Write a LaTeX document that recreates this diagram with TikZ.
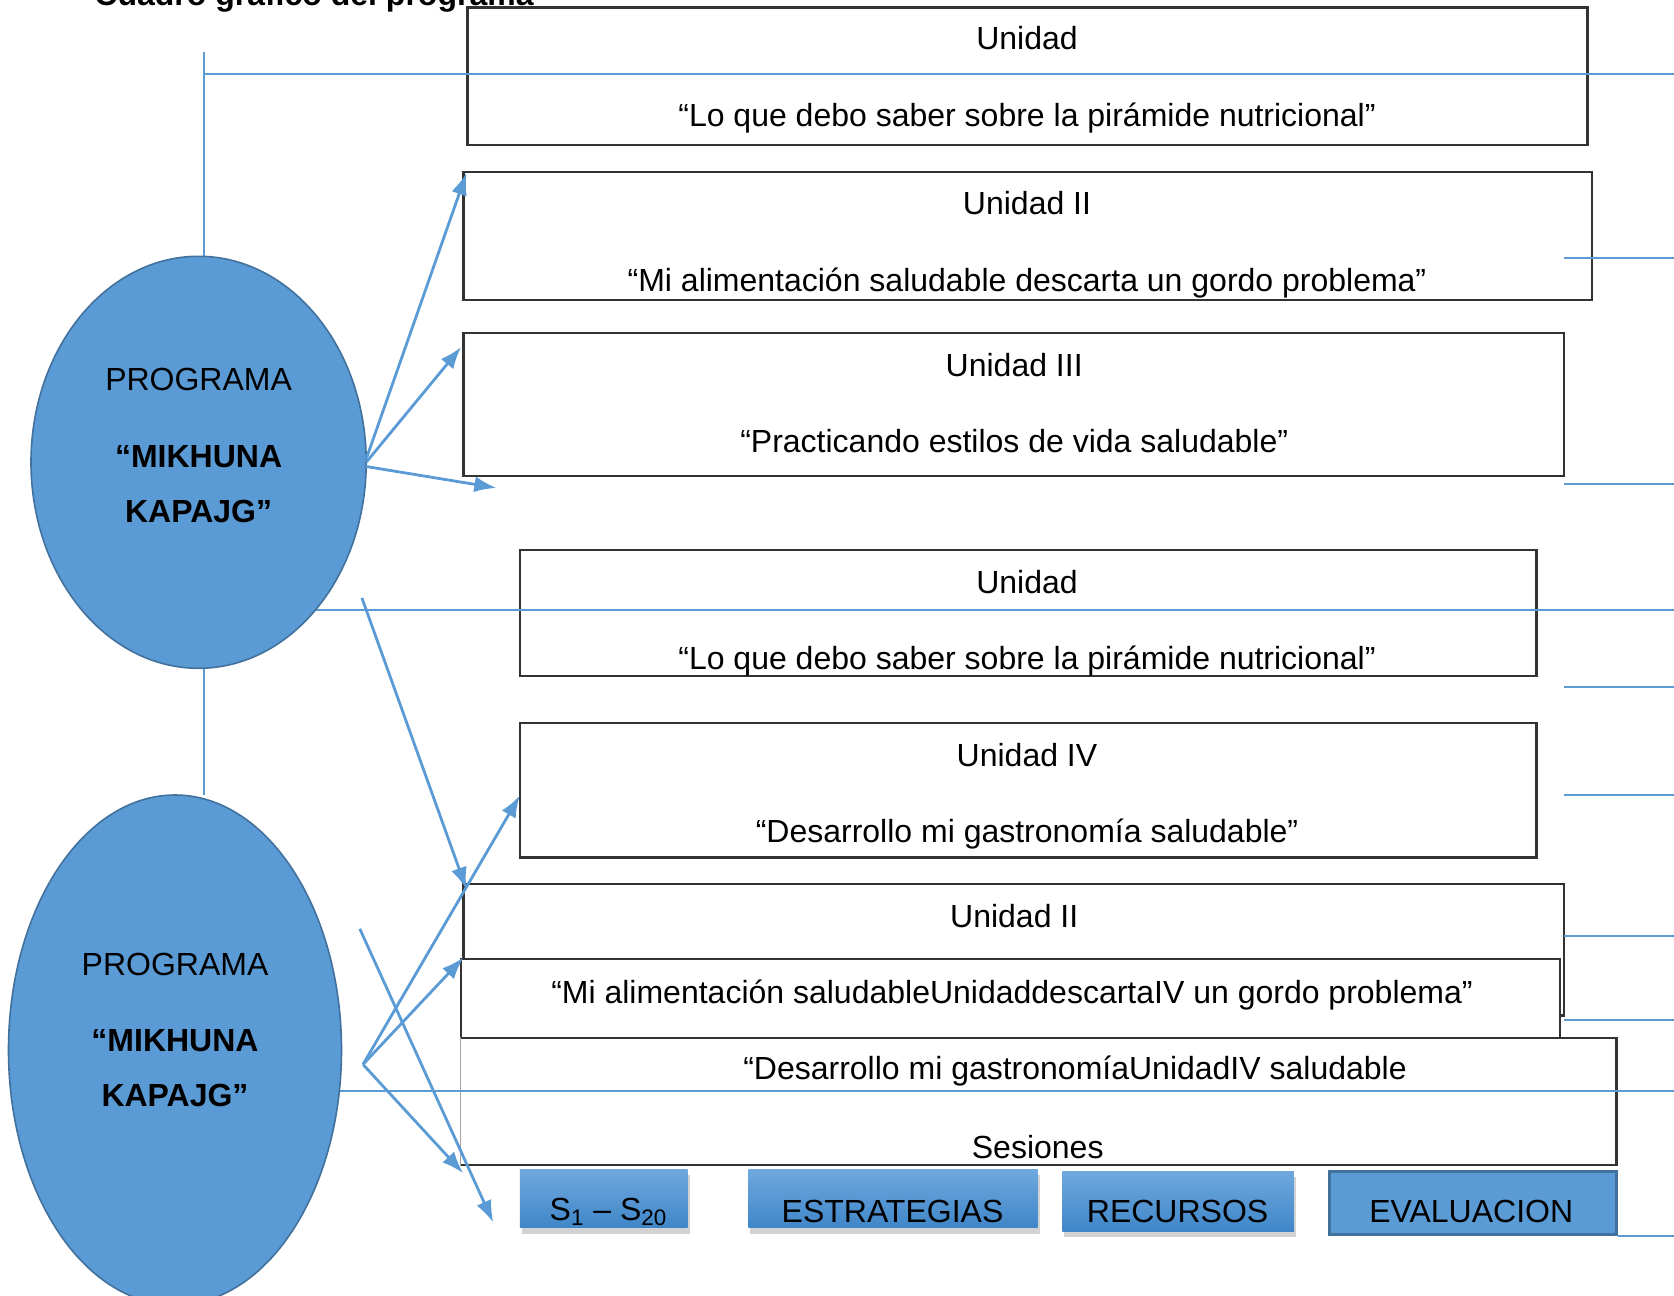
\documentclass[tikz,border=0pt]{standalone}
\usepackage{fontspec}
\setmainfont{Liberation Sans}
\usetikzlibrary{arrows.meta,shadows,fit,shapes.geometric}
\definecolor{obl}{HTML}{5B9BD5}
\definecolor{obd}{HTML}{41719C}
\definecolor{bx}{HTML}{333333}
\definecolor{btop}{HTML}{70A9DF}
\definecolor{bbot}{HTML}{3F86C8}
\begin{document}
\begin{tikzpicture}[x=0.5pt,y=-0.5pt,
  font=\fontsize{16}{19}\selectfont,
  unitbox/.style={draw=bx,line width=1.2pt,fill=white,inner sep=0pt},
  txt/.style={inner sep=0pt,anchor=base},
  btxt/.style={inner sep=0pt,anchor=base,font=\bfseries\fontsize{16}{19}\selectfont},
  bl/.style={draw=obl,line width=1pt},
  arr/.style={draw=obl,line width=1.4pt,-{Latex[length=11pt,width=8pt]}},
  prog/.style={ellipse,fill=obl,draw=obd,line width=0.8pt,inner sep=0pt},
  btn/.style={top color=btop,bottom color=bbot,draw=none,inner sep=0pt,
    drop shadow={shadow xshift=1pt,shadow yshift=-3pt,opacity=0.35}},
  evalbox/.style={fill=obl,draw=obd,line width=1.5pt,inner sep=0pt}]
\useasboundingbox (0,0) rectangle (1674,1295);
\fill[white] (0,0) rectangle (1674,1295);

% title (cut off at top edge, as in the reference)
\node[btxt,anchor=base west] (title) at (94,6) {Cuadro gráfico del programa};

% unit boxes
\node[unitbox,fit={(467.6,7.5) (1587.5,145.2)}] (b1) {};
\node[unitbox,fit={(463.3,171.9) (1591.8,300)}] (b2) {};
\node[unitbox,fit={(463.3,333.1) (1564,476.1)}] (b3) {};
\node[unitbox,fit={(519.9,549.8) (1536.3,675.8)}] (b4) {};
\node[unitbox,fit={(519.9,722.8) (1536.3,857.3)}] (b5) {};
\node[unitbox,fit={(463.3,884) (1564,1015.3)}] (b6) {};
\node[unitbox,fit={(461.2,958.7) (1559.8,1037.7)}] (b7) {};
\node[unitbox,fit={(461.2,1037.7) (1616.3,1164.8)}] (b8) {};
\draw[white,line width=1.6pt] ([yshift=-1pt]b8.north west) -- ([yshift=1pt]b8.south west);
\draw[gray!70,line width=0.4pt] (b8.north west) -- (b8.south west);

% blue lines
\coordinate (v1) at (203.9,52.3);
\coordinate (v2) at (203.9,795.4);
\coordinate (l1a) at (202.8,73.7);   \coordinate (l1b) at (1674,73.7);
\coordinate (l2a) at (1564,258.4);   \coordinate (l2b) at (1674,258.4);
\coordinate (l3a) at (1564,483.6);   \coordinate (l3b) at (1674,483.6);
\coordinate (l4a) at (300,609.6);    \coordinate (l4b) at (1674,609.6);
\coordinate (l5a) at (1564,686.5);   \coordinate (l5b) at (1674,686.5);
\coordinate (l6a) at (1564,795.4);   \coordinate (l6b) at (1674,795.4);
\coordinate (l7a) at (1564,936.3);   \coordinate (l7b) at (1674,936.3);
\coordinate (l8a) at (1564,1019.6);  \coordinate (l8b) at (1674,1019.6);
\coordinate (l9a) at (250,1091);     \coordinate (l9b) at (1674,1091);
\draw[bl] (v1) -- (v2);
\foreach \i in {1,...,9} \draw[bl] (l\i a) -- (l\i b);

% ellipses
\node[prog,minimum width=167.6pt,minimum height=206pt] (e1) at (198.6,462.3) {};
\node[prog,minimum width=166.5pt,minimum height=255pt] (e2) at (175,1050) {};
\node[txt] (e1a) at (198.6,390.5) {PROGRAMA};
\node[btxt] (e1b) at (198.6,467.4) {“MIKHUNA};
\node[btxt] (e1c) at (198.6,522.9) {KAPAJG”};
\node[txt] (e2a) at (175,975.5) {PROGRAMA};
\node[btxt] (e2b) at (175,1051.3) {“MIKHUNA};
\node[btxt] (e2c) at (175,1106.9) {KAPAJG”};

% box texts
\node[txt] (t1a) at (1027,49.9) {Unidad};
\node[txt] (t1b) at (1027,126.8) {“Lo que debo saber sobre la pirámide nutricional”};
\node[txt] (t2a) at (1027,214.3) {Unidad II};
\node[txt] (t2b) at (1027,291.2) {“Mi alimentación saludable descarta un gordo problema”};
\node[txt] (t3a) at (1014.2,376.6) {Unidad III};
\node[txt] (t3b) at (1014.2,452.4) {“Practicando estilos de vida saludable”};
\node[txt] (t4a) at (1027,593.3) {Unidad};
\node[txt] (t4b) at (1027,669.1) {“Lo que debo saber sobre la pirámide nutricional”};
\node[txt] (t5a) at (1027,766.3) {Unidad IV};
\node[txt] (t5b) at (1027,842.1) {“Desarrollo mi gastronomía saludable”};
\node[txt] (t6a) at (1014.2,927.5) {Unidad II};
\node[txt] (t7a) at (1012,1003.3) {“Mi alimentación saludableUnidaddescartaIV un gordo problema”};
\node[txt] (t8a) at (1075,1079.1) {“Desarrollo mi gastronomíaUnidadIV saludable};
\node[txt] (t8b) at (1037.7,1158.1) {Sesiones};

% buttons
\node[btn,fit={(519.9,1169) (687.5,1227.7)}] (s1) {};
\node[btn,fit={(748.4,1169) (1037.7,1227.7)}] (s2) {};
\node[btn,fit={(1062.3,1171.2) (1293.9,1231)}] (s3) {};
\node[evalbox,fit={(1329.2,1171.2) (1616.3,1234.1)}] (s4) {};
\node[txt] (s1t) at (608.5,1220) {S\textsubscript{1} – S\textsubscript{20}};
\node[txt] (s2t) at (892.5,1222) {ESTRATEGIAS};
\node[txt] (s3t) at (1177.6,1222) {RECURSOS};
\node[txt] (s4t) at (1471.2,1222) {EVALUACION};
\coordinate (l10b) at (1674,1234.1);
\draw[bl] (s4.south east) -- (s4.south east -| l10b);

% arrows
\coordinate (a1s) at (366.2,459);   \coordinate (a1e) at (466.5,173);
\coordinate (a2s) at (366.2,462.3); \coordinate (a2e) at (461.2,347);
\coordinate (a3s) at (366.2,466.5); \coordinate (a3e) at (496.4,487.9);
\coordinate (a4s) at (361.9,597.9); \coordinate (a4e) at (466.5,889.3);
\coordinate (a5s) at (363,1064.4);  \coordinate (a5e) at (519.9,795.4);
\coordinate (a6e) at (463.3,957.6);
\coordinate (a7e) at (463.3,1173.3);
\coordinate (a8s) at (359.8,928.8); \coordinate (a8e) at (493.2,1222.4);
\draw[arr] (a1s) -- (a1e);
\draw[arr] (a2s) -- (a2e);
\draw[arr] (a3s) -- (a3e);
\draw[arr] (a4s) -- (a4e);
\draw[arr] (a5s) -- (a5e);
\draw[arr] (a5s) -- (a6e);
\draw[arr] (a5s) -- (a7e);
\draw[arr] (a8s) -- (a8e);
\end{tikzpicture}
\end{document}
